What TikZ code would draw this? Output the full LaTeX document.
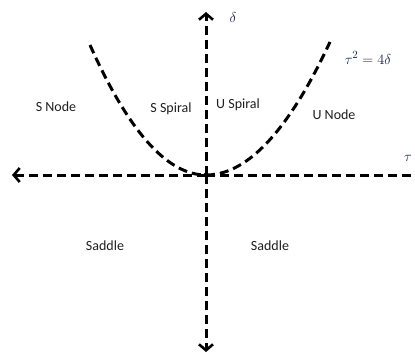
\documentclass[tikz,border=0pt]{standalone}
\usepackage{fontspec}
\setmainfont{Carlito}
\usetikzlibrary{arrows.meta}
\definecolor{eqc}{RGB}{25,35,70}
\definecolor{txt}{RGB}{30,30,30}
\begin{document}
\begin{tikzpicture}[x=1pt,y=-1pt,
  axis/.style={line width=3pt,dash pattern=on 9pt off 5pt,-{Straight Barb[length=6pt,width=14pt,line width=2.6pt]}},
  curve/.style={line width=3pt,dash pattern=on 9pt off 5pt},
  lbl/.style={font=\fontsize{14}{16}\selectfont,text=txt,inner sep=0pt},
  mlbl/.style={font=\fontsize{15}{17}\selectfont,text=eqc,inner sep=0pt}]
\useasboundingbox (0,0) rectangle (415,354);
\coordinate (O) at (206,175);
\coordinate (top) at (206,12);
\coordinate (bot) at (206,352);
\coordinate (left) at (12,175);
\coordinate (right) at (418,175);
\draw[axis] (O) -- (top);
\draw[axis] (O) -- (bot);
\draw[axis] (O) -- (left);
\draw[curve] (O) -- (right);
\draw[curve] plot[domain=-116:0,samples=60] ({206+\x},{175-0.00966*\x*\x});
\draw[curve] plot[domain=0:124,samples=60] ({206+\x},{175-0.00865*\x*\x});
\fill (O) circle (2.4pt);
\node[mlbl] (d) at (233,17) {$\delta$};
\node[mlbl] (t) at (408,158) {$\tau$};
\node[mlbl] (eq) at (368,58) {$\tau^2=4\delta$};
\node[lbl] (sn) at (56,107) {S Node};
\node[lbl] (ss) at (171,109) {S Spiral};
\node[lbl] (us) at (238,105) {U Spiral};
\node[lbl] (un) at (334,115) {U Node};
\node[lbl] (sa1) at (105,246) {Saddle};
\node[lbl] (sa2) at (270,246) {Saddle};
\end{tikzpicture}
\end{document}
